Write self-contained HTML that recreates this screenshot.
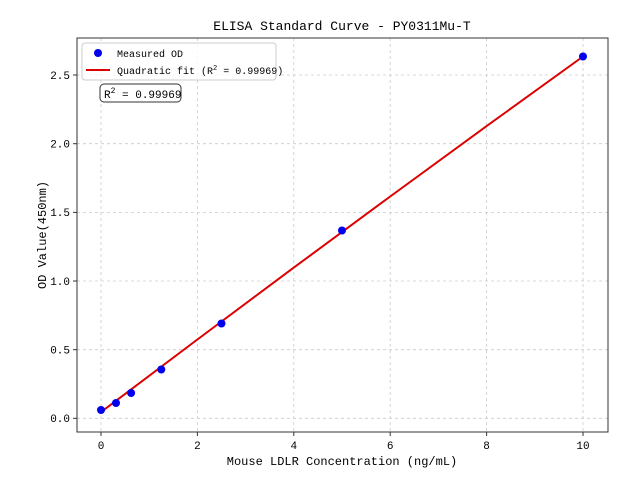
<!DOCTYPE html>
<html><head><meta charset="utf-8"><style>
body{margin:0;background:#fff}
text{font-family:"Liberation Mono","WenQuanYi Zen Hei",monospace;fill:#000}
</style></head><body>
<svg width="640" height="480" xmlns="http://www.w3.org/2000/svg">
<rect width="640" height="480" fill="#fff"/>
<g stroke="#ccc" stroke-dasharray="3,3" stroke-width="0.8">
<line x1="101" y1="38" x2="101" y2="432"/><line x1="197.4" y1="38" x2="197.4" y2="432"/>
<line x1="293.8" y1="38" x2="293.8" y2="432"/><line x1="390.2" y1="38" x2="390.2" y2="432"/>
<line x1="486.6" y1="38" x2="486.6" y2="432"/><line x1="583" y1="38" x2="583" y2="432"/>
<line x1="77" y1="418.3" x2="608" y2="418.3"/><line x1="77" y1="349.7" x2="608" y2="349.7"/>
<line x1="77" y1="281" x2="608" y2="281"/><line x1="77" y1="212.4" x2="608" y2="212.4"/>
<line x1="77" y1="143.7" x2="608" y2="143.7"/><line x1="77" y1="75" x2="608" y2="75"/>
</g>
<polyline fill="none" stroke="#dd0000" stroke-width="2" points="101,412.1 197.4,339.5 293.8,267.6 390.2,196.5 486.6,126.1 583,56.5"/>
<g fill="#0000ee">
<circle cx="101" cy="410" r="4"/><circle cx="116" cy="403" r="4"/><circle cx="131.1" cy="393" r="4"/>
<circle cx="161.3" cy="369.5" r="4"/><circle cx="221.5" cy="323.5" r="4"/><circle cx="342" cy="230.5" r="4"/><circle cx="583" cy="56.5" r="4"/>
</g>
<rect x="77" y="38" width="531" height="394" fill="none" stroke="#333" stroke-width="1"/>
<g stroke="#333">
<line x1="101" y1="432" x2="101" y2="436"/><line x1="197.4" y1="432" x2="197.4" y2="436"/><line x1="293.8" y1="432" x2="293.8" y2="436"/><line x1="390.2" y1="432" x2="390.2" y2="436"/><line x1="486.6" y1="432" x2="486.6" y2="436"/><line x1="583" y1="432" x2="583" y2="436"/>
<line x1="73" y1="418.3" x2="77" y2="418.3"/><line x1="73" y1="349.7" x2="77" y2="349.7"/><line x1="73" y1="281" x2="77" y2="281"/><line x1="73" y1="212.4" x2="77" y2="212.4"/><line x1="73" y1="143.7" x2="77" y2="143.7"/><line x1="73" y1="75" x2="77" y2="75"/>
</g>
<g font-size="11" text-anchor="middle">
<text x="101" y="449">0</text><text x="197.4" y="449">2</text><text x="293.8" y="449">4</text><text x="390.2" y="449">6</text><text x="486.6" y="449">8</text><text x="583" y="449">10</text>
</g>
<g font-size="11" text-anchor="end">
<text x="70" y="422">0.0</text><text x="70" y="353.5">0.5</text><text x="70" y="285">1.0</text><text x="70" y="216">1.5</text><text x="70" y="147.5">2.0</text><text x="70" y="79">2.5</text>
</g>
<text x="342" y="465" font-size="12" text-anchor="middle">Mouse LDLR Concentration (ng/mL)</text>
<text transform="translate(46,235) rotate(-90)" font-size="12" text-anchor="middle">OD Value(450nm)</text>
<text x="342" y="30" font-size="13" text-anchor="middle">ELISA Standard Curve - PY0311Mu-T</text>
<rect x="82" y="43" width="194" height="37" rx="3" fill="#fff" fill-opacity="0.8" stroke="#ccc"/>
<circle cx="98" cy="53" r="4" fill="#0000ee"/>
<text x="117" y="57" font-size="10">Measured OD</text>
<line x1="86" y1="70" x2="110" y2="70" stroke="#dd0000" stroke-width="2"/>
<text x="117" y="74" font-size="10">Quadratic fit (R<tspan font-size="7" dy="-4">2</tspan><tspan dy="4"> = 0.99969)</tspan></text>
<rect x="100" y="84" width="81" height="18" rx="4" fill="#fff" stroke="#333"/>
<text x="104" y="98" font-size="11">R<tspan font-size="8" dy="-5">2</tspan><tspan dy="5"> = 0.99969</tspan></text>
</svg>
</body></html>
